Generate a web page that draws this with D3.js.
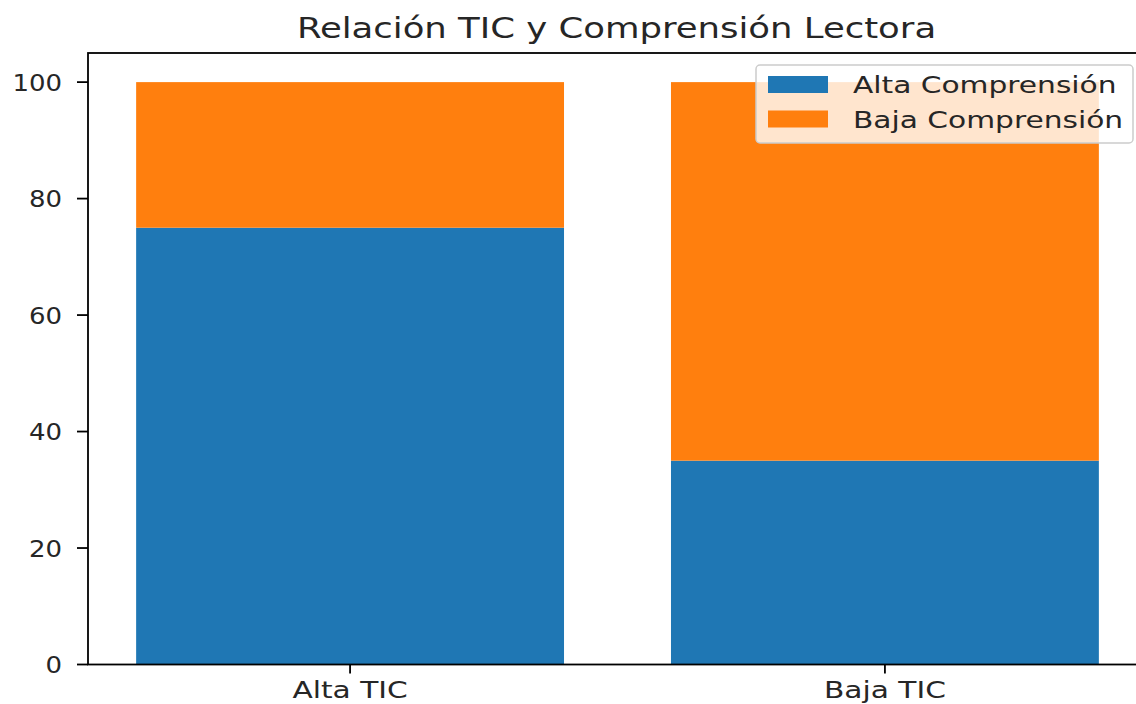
<!DOCTYPE html>
<html>
<head>
<meta charset="utf-8">
<script src="https://cdn.jsdelivr.net/npm/d3@7"></script>
<style>
  body { margin: 0; background: #fff; }
  text { font-family: "DejaVu Sans", sans-serif; fill: #262626; }
</style>
</head>
<body>
<div id="chart"></div>
<script>
const categorias = ["Alta TIC", "Baja TIC"];
const altaComprension = [75, 35];
const bajaComprension = [25, 65];
const series = ["Alta Comprensión", "Baja Comprensión"];
const colores = ["#1f77b4", "#ff7f0e"];
const yTicks = [0, 20, 40, 60, 80, 100];

const W = 1136, H = 704;
const mIzq = 88, mDer = 1147, mSup = 53, mInf = 664.5;
const sxNum = 1.13; // estiramiento horizontal de los numeros
const sx = 1.29;    // estiramiento horizontal del texto

const svg = d3.select("#chart").append("svg").attr("width", W).attr("height", H);

const x = d3.scaleLinear().domain([-0.49, 1.49]).range([mIzq, mDer]);
const y = d3.scaleLinear().domain([0, 105]).range([mInf, mSup]);
const barW = 0.8;

const datos = categorias.map((c, i) => ({ c, i, a: altaComprension[i], b: bajaComprension[i] }));

// barras
svg.append("g").selectAll("rect").data(datos).join("rect")
  .attr("x", d => x(d.i - barW / 2)).attr("width", d => x(d.i + barW / 2) - x(d.i - barW / 2))
  .attr("y", d => y(d.a)).attr("height", d => y(0) - y(d.a))
  .attr("fill", colores[0]);
svg.append("g").selectAll("rect").data(datos).join("rect")
  .attr("x", d => x(d.i - barW / 2)).attr("width", d => x(d.i + barW / 2) - x(d.i - barW / 2))
  .attr("y", d => y(d.a + d.b)).attr("height", d => y(d.a) - y(d.a + d.b))
  .attr("fill", colores[1]);

// ejes
const ejeY = svg.append("g");
yTicks.forEach(t => {
  ejeY.append("line").attr("x1", mIzq - 11).attr("x2", mIzq).attr("y1", y(t)).attr("y2", y(t))
    .attr("stroke", "#000").attr("stroke-width", 1.8);
  ejeY.append("text").attr("text-anchor", "end").attr("font-size", 23)
    .attr("transform", `translate(${mIzq - 26},${y(t) + 8.5}) scale(${sxNum},1)`).text(t);
});
const ejeX = svg.append("g");
datos.forEach(d => {
  ejeX.append("line").attr("x1", x(d.i)).attr("x2", x(d.i)).attr("y1", mInf).attr("y2", mInf + 9)
    .attr("stroke", "#000").attr("stroke-width", 1.8);
  ejeX.append("text").attr("text-anchor", "middle").attr("font-size", 23)
    .attr("transform", `translate(${x(d.i)},${mInf + 33}) scale(${sx},1)`).text(d.c);
});

// marco
svg.append("rect").attr("x", mIzq).attr("y", mSup).attr("width", mDer - mIzq).attr("height", mInf - mSup)
  .attr("fill", "none").attr("stroke", "#000").attr("stroke-width", 1.8);

// titulo
svg.append("text").attr("text-anchor", "middle").attr("font-size", 27.5)
  .attr("transform", `translate(${(296 + 937) / 2},38) scale(${sx},1)`).text("Relación TIC y Comprensión Lectora");

// leyenda
const ley = svg.append("g");
ley.append("rect").attr("x", 756).attr("y", 65).attr("width", 377).attr("height", 78).attr("rx", 4)
  .attr("fill", "#fff").attr("fill-opacity", 0.8).attr("stroke", "#cccccc").attr("stroke-width", 1.5);
series.forEach((s, i) => {
  ley.append("rect").attr("x", 768).attr("y", 76 + i * 34.5).attr("width", 60).attr("height", 17)
    .attr("fill", colores[i]);
  ley.append("text").attr("font-size", 23)
    .attr("transform", `translate(853,${93 + i * 34.5}) scale(${sx},1)`).text(s);
});
</script>
</body>
</html>
